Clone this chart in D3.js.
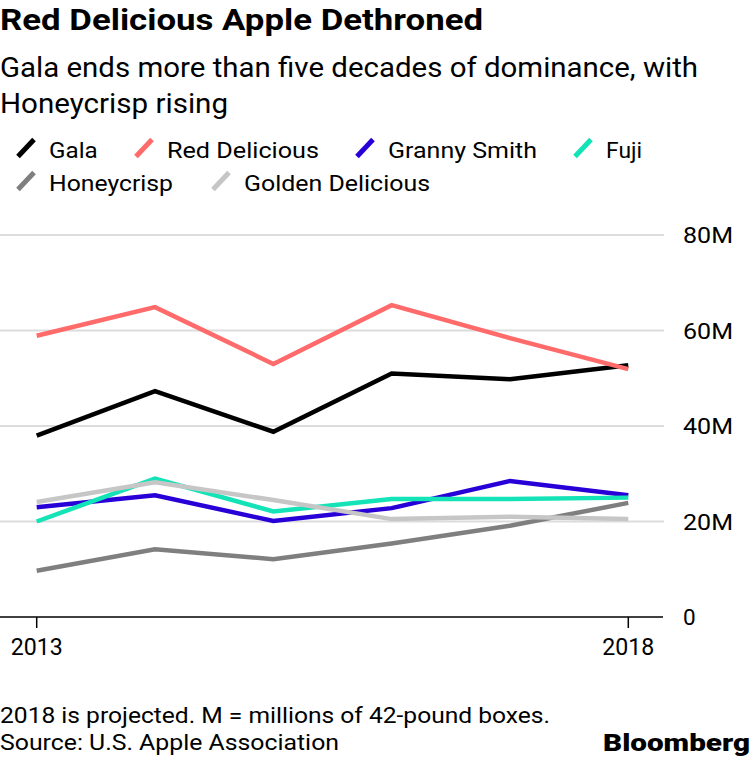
<!DOCTYPE html>
<html><head><meta charset="utf-8">
<script src="https://cdn.jsdelivr.net/npm/d3@7"></script>
<style>
html,body{margin:0;padding:0;background:#fff;}
text{font-family:"Roboto","Liberation Sans",sans-serif;}
</style></head>
<body><svg id="chart" width="750" height="759"></svg>
<script>
const years = [2013, 2014, 2015, 2016, 2017, 2018];
const seriesNames = ["Gala", "Red Delicious", "Granny Smith", "Fuji", "Honeycrisp", "Golden Delicious"];
const gala = [38.0, 47.3, 38.8, 51.0, 49.8, 52.7];
const redDelicious = [58.9, 64.9, 53.0, 65.3, 58.4, 51.9];
const grannySmith = [23.0, 25.5, 20.1, 22.8, 28.5, 25.5];
const fuji = [20.0, 29.0, 22.1, 24.7, 24.7, 25.0];
const honeycrisp = [9.7, 14.2, 12.1, 15.4, 19.1, 23.9];
const goldenDelicious = [24.1, 28.2, 24.5, 20.5, 21.0, 20.5];
const colors = ["#000000", "#ff6b6b", "#2800d7", "#13e3b6", "#7f7f7f", "#c6c6c6"];
const yTicks = [0, 20, 40, 60, 80];
const yTickLabels = ["0", "20M", "40M", "60M", "80M"];
const xTickYears = [2013, 2018];

const allValues = [gala, redDelicious, grannySmith, fuji, honeycrisp, goldenDelicious];
const svg = d3.select("#chart");

const x = d3.scaleLinear().domain([2013, 2018]).range([36.7, 628.3]);
const y = d3.scaleLinear().domain([0, 80]).range([617, 235]);

// title
svg.append("text").attr("x", 0).attr("y", 30).attr("font-size", 29.5).attr("font-weight", 700)
  .attr("textLength", 483).attr("lengthAdjust", "spacingAndGlyphs")
  .text("Red Delicious Apple Dethroned");
svg.append("text").attr("x", 0).attr("y", 77).attr("font-size", 27)
  .attr("textLength", 698).attr("lengthAdjust", "spacingAndGlyphs")
  .text("Gala ends more than five decades of dominance, with");
svg.append("text").attr("x", 0).attr("y", 113).attr("font-size", 27)
  .attr("textLength", 228).attr("lengthAdjust", "spacingAndGlyphs")
  .text("Honeycrisp rising");

// legend
const legendPos = [
  {x: 16, y: 157.5, w: 48.7}, {x: 134, y: 157.5, w: 152}, {x: 355, y: 157.5, w: 149},
  {x: 573, y: 157.5, w: 36}, {x: 16, y: 190.5, w: 124}, {x: 211, y: 190.5, w: 186}
];
const leg = svg.append("g");
seriesNames.forEach((name, i) => {
  const p = legendPos[i];
  leg.append("line").attr("x1", p.x + 2).attr("y1", p.y - 1).attr("x2", p.x + 18).attr("y2", p.y - 18)
    .attr("stroke", colors[i]).attr("stroke-width", 5).attr("stroke-linecap", "butt");
  leg.append("text").attr("x", p.x + 33).attr("y", p.y).attr("font-size", 22.5)
    .attr("textLength", p.w).attr("lengthAdjust", "spacingAndGlyphs").text(name);
});

// gridlines
const grid = svg.append("g");
yTicks.forEach((t, i) => {
  if (t !== 0) {
    grid.append("line").attr("x1", 0).attr("x2", 664).attr("y1", y(t)).attr("y2", y(t))
      .attr("stroke", "#dcdcdc").attr("stroke-width", 2);
  }
  const lbl = grid.append("text").attr("x", 683).attr("y", y(t)).attr("dy", "0.36em").attr("font-size", 22.5)
    .text(yTickLabels[i]);
  if (t !== 0) lbl.attr("textLength", 50).attr("lengthAdjust", "spacingAndGlyphs");
});

// lines
const line = d3.line().x((d, i) => x(years[i])).y(d => y(d));
allValues.forEach((vals, i) => {
  svg.append("path").datum(vals).attr("d", line).attr("fill", "none")
    .attr("stroke", colors[i]).attr("stroke-width", 4.5).attr("stroke-linejoin", "miter");
});

// x axis
svg.append("line").attr("x1", 0).attr("x2", 663).attr("y1", y(0)).attr("y2", y(0))
  .attr("stroke", "#000").attr("stroke-width", 1.5);
xTickYears.forEach(yr => {
  svg.append("line").attr("x1", x(yr)).attr("x2", x(yr)).attr("y1", y(0)).attr("y2", y(0) + 11)
    .attr("stroke", "#000").attr("stroke-width", 1.5);
  svg.append("text").attr("x", x(yr)).attr("y", 655).attr("text-anchor", "middle").attr("font-size", 23)
    .attr("textLength", 52).attr("lengthAdjust", "spacingAndGlyphs")
    .text(String(yr));
});

// footer
svg.append("text").attr("x", 0).attr("y", 723).attr("font-size", 21.5)
  .attr("textLength", 550).attr("lengthAdjust", "spacingAndGlyphs")
  .text("2018 is projected. M = millions of 42-pound boxes.");
svg.append("text").attr("x", 0).attr("y", 750).attr("font-size", 21.5)
  .attr("textLength", 339).attr("lengthAdjust", "spacingAndGlyphs")
  .text("Source: U.S. Apple Association");
svg.append("text").attr("x", 603).attr("y", 751).attr("font-size", 24)
  .attr("font-weight", 900).attr("textLength", 147).attr("lengthAdjust", "spacingAndGlyphs")
  .text("Bloomberg");
</script></body></html>
